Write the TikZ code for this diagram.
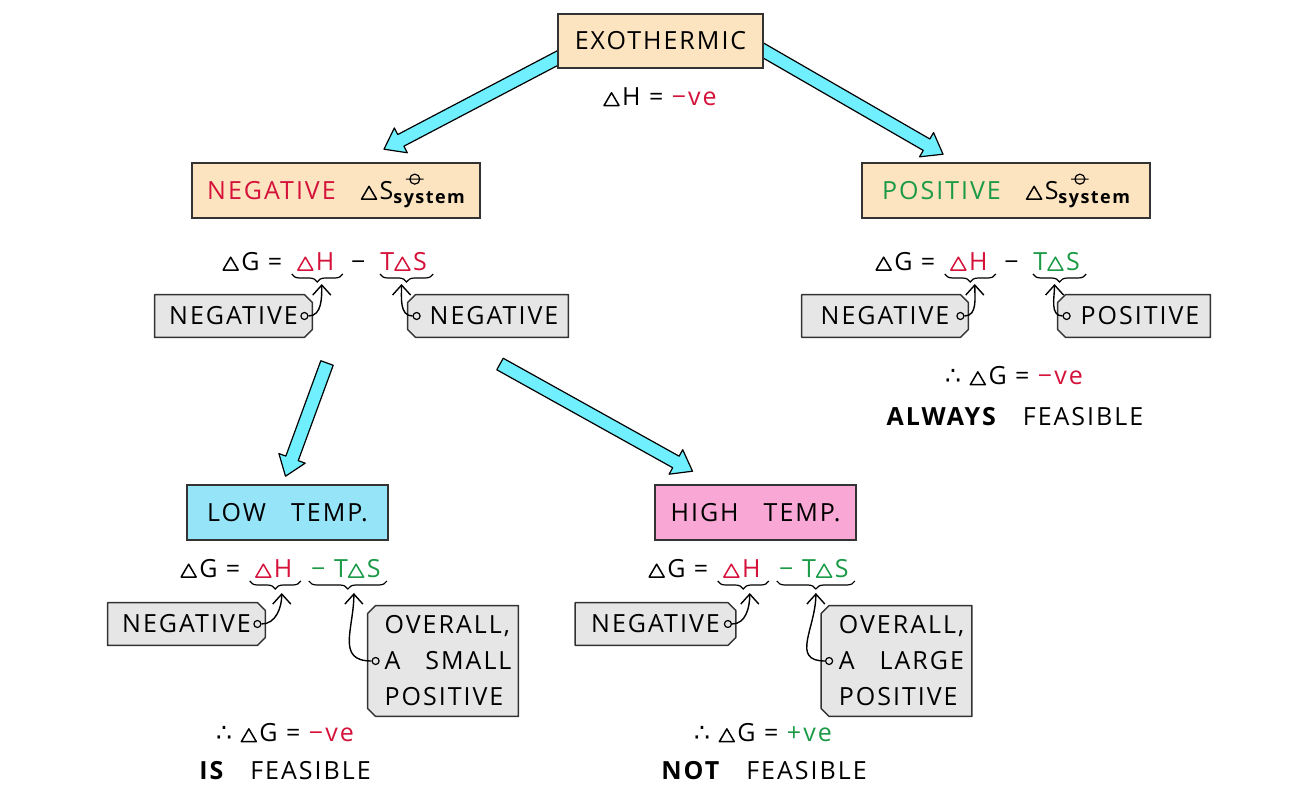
\documentclass[tikz,border=0pt]{standalone}
\usepackage{fontspec}
\setmainfont{Open Sans}[LetterSpace=8]
\newfontfamily\symfont{DejaVu Sans}
\usetikzlibrary{calc,positioning,decorations.pathreplacing,arrows.meta,backgrounds}

\definecolor{crimson}{HTML}{D4123A}
\definecolor{leaf}{HTML}{1B9A47}
\definecolor{sand}{HTML}{FCE4C0}
\definecolor{sky}{HTML}{96E4F8}
\definecolor{candy}{HTML}{F9A7D5}
\definecolor{aqua}{HTML}{70F0FF}
\definecolor{tagfill}{HTML}{E6E6E6}

\newcommand{\tri}{\tikz[baseline=0pt]\draw[line width=0.75pt, line join=round] (0pt,0pt) -- (7.5pt,0pt) -- (3.75pt,6.4pt) -- cycle;\hspace{1.2pt}}
\newcommand{\thus}{{\symfont ∴}}
\newcommand{\plim}{\tikz[baseline=0pt]\draw[line width=0.6pt] (0pt,0pt) circle (2.5pt) (-4.4pt,0pt) -- (4.4pt,0pt);}
\newcommand{\dS}{\tri S\rlap{\hspace{6pt}\raisebox{10pt}{\plim}}\raisebox{-2pt}{\fontsize{9}{10}\selectfont\bfseries system}}
\newcommand{\fatarrow}[2]{%
  \coordinate (fh) at ($(#2)!9.5pt!(#1)$);
  \filldraw[fat] ($(#1)!3.3pt!90:(#2)$) -- ($(fh)!3.3pt!90:(#2)$) -- ($(fh)!7pt!90:(#2)$) -- (#2)
    -- ($(fh)!7pt!-90:(#2)$) -- ($(fh)!3.3pt!-90:(#2)$) -- ($(#1)!3.3pt!-90:(#2)$) -- cycle;}
\newcommand{\tagE}[1]{\filldraw[tagline] (#1.north west) -- ($(#1.north east)+(-8,0)$) -- ($(#1.north east)+(0,-8)$)
    -- ($(#1.south east)+(0,8)$) -- ($(#1.south east)+(-8,0)$) -- (#1.south west) -- cycle;}
\newcommand{\tagW}[1]{\filldraw[tagline] (#1.north east) -- ($(#1.north west)+(8,0)$) -- ($(#1.north west)+(0,-8)$)
    -- ($(#1.south west)+(0,8)$) -- ($(#1.south west)+(8,0)$) -- (#1.south east) -- cycle;}

\begin{document}
\begin{tikzpicture}[x=0.5pt, y=0.5pt, font=\fontsize{12.5}{14}\selectfont,
  box/.style = {draw=black!80, line width=0.8pt, minimum height=27.5pt},
  eq/.style = {inner sep=0pt},
  tag/.style = {minimum height=21pt, inner sep=0pt},
  tagline/.style = {draw=black!80, fill=tagfill, line width=0.7pt, line join=round},
  hole/.style = {draw, circle, inner sep=0pt, minimum size=3.5pt, line width=0.6pt},
  brace/.style = {decorate, decoration={brace, mirror, amplitude=4pt}, line width=0.6pt},
  pointer/.style = {-{Straight Barb[length=5pt, width=9pt]}, line width=0.7pt},
  fat/.style = {draw=black, fill=aqua, line width=0.6pt, line join=round}]
\useasboundingbox (0,0) rectangle (1315,-792);

\node[box, fill=sand, minimum width=102.5pt, minimum height=27pt] (exo) at (660.5,-41) {EXOTHERMIC};
\node (dh0) at (660,-97) {\tri H = \textcolor{crimson}{−ve}};
\node[box, fill=sand, minimum width=144pt] (neg) at (336,-190.5) {\textcolor{crimson}{NEGATIVE}\quad\dS};
\node[box, fill=sand, minimum width=144pt] (pos) at (1006,-190.5) {\textcolor{leaf}{POSITIVE}\quad\dS};
\node[box, fill=sky, minimum width=100.5pt] (low) at (287.5,-512.5) {LOW\quad TEMP.};
\node[box, fill=candy, minimum width=100.5pt] (high) at (755.5,-512.5) {HIGH\quad TEMP.};

\coordinate (a1s) at ($(exo.west)+(10,-12)$);
\coordinate (a1e) at ($(neg.north)+(48,13)$);
\coordinate (a2s) at ($(exo.east)+(-10,-4)$);
\coordinate (a2e) at ($(pos.north)+(-63,8)$);
\coordinate (a3s) at (327,-363);
\coordinate (a3e) at ($(low.north)+(-2,8)$);
\coordinate (a4s) at (500,-364);
\coordinate (a4e) at ($(high.north)+(-63,13)$);
\begin{scope}[on background layer]
\fatarrow{a1s}{a1e}
\fatarrow{a2s}{a2e}
\end{scope}
\fatarrow{a3s}{a3e}
\fatarrow{a4s}{a4e}

\node[eq, anchor=base west] (g1) at (222,-270) {\tri G =};
\node[eq, base right=7pt of g1, text=crimson] (dh1) {\tri H};
\node[eq, base right=8pt of dh1] (m1) {−};
\node[eq, base right=7pt of m1, text=crimson] (ts1) {T\tri S};
\draw[brace] ($(dh1.base west)+(-5,-4)$) -- ($(dh1.base east)+(8,-4)$);
\draw[brace] ($(ts1.base west)+(0,-4)$) -- ($(ts1.base east)+(6,-4)$);
\coordinate (p1) at ($(dh1.base)+(6,-14)$);
\coordinate (p2) at ($(ts1.base)+(-2,-14)$);
\node[tag, minimum width=78.5pt] (t1) at (233.5,-316) {NEGATIVE\hspace{5pt}};
\node[tag, minimum width=80pt] (t2) at (488,-316) {\hspace{6pt}NEGATIVE};

\node[eq, anchor=base west] (g2) at (875,-270) {\tri G =};
\node[eq, base right=7pt of g2, text=crimson] (dh2) {\tri H};
\node[eq, base right=8pt of dh2] (m2) {−};
\node[eq, base right=7pt of m2, text=leaf] (ts2) {T\tri S};
\draw[brace] ($(dh2.base west)+(-5,-4)$) -- ($(dh2.base east)+(8,-4)$);
\draw[brace] ($(ts2.base west)+(0,-4)$) -- ($(ts2.base east)+(6,-4)$);
\coordinate (p3) at ($(dh2.base)+(6,-14)$);
\coordinate (p4) at ($(ts2.base)+(-2,-14)$);
\node[tag, minimum width=83pt] (t3) at (885,-316) {NEGATIVE\hspace{5pt}};
\node[tag, minimum width=76pt] (t4) at (1134,-316) {\hspace{6pt}POSITIVE};
\node (c3) at (1014,-376) {\thus\ \tri G = \textcolor{crimson}{−ve}};
\node (f3) at (1015,-417) {\textbf{ALWAYS}\quad FEASIBLE};

\node[eq, anchor=base west] (g3) at (180,-577) {\tri G =};
\node[eq, base right=7pt of g3, text=crimson] (dh3) {\tri H};
\node[eq, base right=9pt of dh3, text=leaf] (ts3) {−\ T\tri S};
\draw[brace] ($(dh3.base west)+(-5,-4)$) -- ($(dh3.base east)+(8,-4)$);
\draw[brace] ($(ts3.base west)+(-2,-4)$) -- ($(ts3.base east)+(6,-4)$);
\coordinate (p5) at ($(dh3.base)+(8,-16)$);
\coordinate (p6) at ($(ts3.base)+(8,-16)$);
\node[tag, minimum width=78.5pt] (t5) at (186.5,-624) {NEGATIVE\hspace{5pt}};
\node[tag, minimum width=75pt, minimum height=55pt, align=left, font=\fontsize{12.5}{18}\selectfont] (t6) at (443,-661) {\hspace{5pt}OVERALL,\\\hspace{5pt}A\quad SMALL\\\hspace{5pt}POSITIVE};
\node (c1) at (285,-733) {\thus\ \tri G = \textcolor{crimson}{−ve}};
\node (f1) at (285,-771) {\textbf{IS}\quad FEASIBLE};

\node[eq, anchor=base west] (g4) at (648,-577) {\tri G =};
\node[eq, base right=7pt of g4, text=crimson] (dh4) {\tri H};
\node[eq, base right=9pt of dh4, text=leaf] (ts4) {−\ T\tri S};
\draw[brace] ($(dh4.base west)+(-5,-4)$) -- ($(dh4.base east)+(8,-4)$);
\draw[brace] ($(ts4.base west)+(-2,-4)$) -- ($(ts4.base east)+(6,-4)$);
\coordinate (p7) at ($(dh4.base)+(8,-16)$);
\coordinate (p8) at ($(ts4.base)+(2,-16)$);
\node[tag, minimum width=80pt] (t7) at (655.5,-624) {NEGATIVE\hspace{5pt}};
\node[tag, minimum width=75pt, minimum height=55pt, align=left, font=\fontsize{12.5}{18}\selectfont] (t8) at (896.5,-661) {\hspace{5pt}OVERALL,\\\hspace{5pt}A\quad LARGE\\\hspace{5pt}POSITIVE};
\node (c2) at (763,-733) {\thus\ \tri G = \textcolor{leaf}{+ve}};
\node (f2) at (764,-771) {\textbf{NOT}\quad FEASIBLE};

\begin{scope}[on background layer]
\tagE{t1} \tagW{t2} \tagE{t3} \tagW{t4}
\tagE{t5} \tagW{t6} \tagE{t7} \tagW{t8}
\end{scope}
\node[hole] (o1) at ($(t1.east)+(-8,0)$) {};
\node[hole] (o2) at ($(t2.west)+(9,0)$) {};
\node[hole] (o3) at ($(t3.east)+(-8,0)$) {};
\node[hole] (o4) at ($(t4.west)+(9,0)$) {};
\node[hole] (o5) at ($(t5.east)+(-8,0)$) {};
\node[hole] (o6) at ($(t6.west)+(8,0)$) {};
\node[hole] (o7) at ($(t7.east)+(-8,0)$) {};
\node[hole] (o8) at ($(t8.west)+(8,0)$) {};
\draw[pointer] (o1) to[out=0, in=-90] (p1);
\draw[pointer] (o2) to[out=180, in=-90] (p2);
\draw[pointer] (o3) to[out=0, in=-90] (p3);
\draw[pointer] (o4) to[out=180, in=-90] (p4);
\draw[pointer] (o5) to[out=0, in=-90] (p5);
\draw[pointer] (o6) to[out=180, in=-90, looseness=1.3] (p6);
\draw[pointer] (o7) to[out=0, in=-90] (p7);
\draw[pointer] (o8) to[out=180, in=-90, looseness=1.3] (p8);
\end{tikzpicture}
\end{document}
